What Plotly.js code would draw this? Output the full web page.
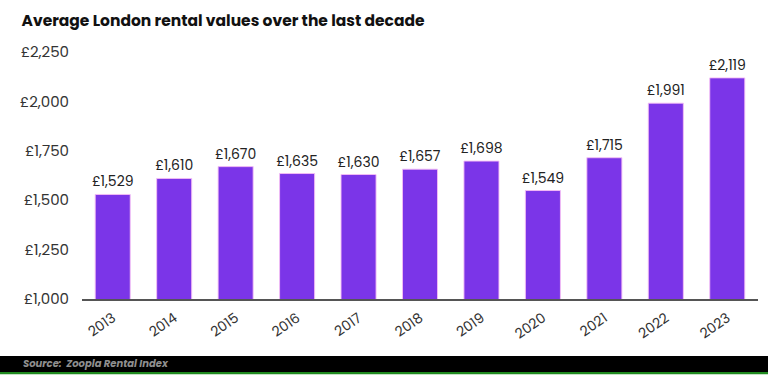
<!DOCTYPE html>
<html><head><meta charset="utf-8">
<script src="https://cdn.plot.ly/plotly-3.0.1.min.js"></script>
<style>html,body{margin:0;padding:0;background:#fff;}#chart{width:768px;height:375px;}</style>
</head><body><div id="chart"></div>
<script>
const years = ['2013','2014','2015','2016','2017','2018','2019','2020','2021','2022','2023'];
const rents = [1529,1610,1670,1635,1630,1657,1698,1549,1715,1991,2119];
const yTicks = [1000,1250,1500,1750,2000,2250];
const yTickLabels = ['£1,000','£1,250','£1,500','£1,750','£2,000','£2,250'];
const barLabels = rents.map(v => '£' + v.toLocaleString('en-GB'));

const font = 'Poppins, Inter, "Open Sans", sans-serif';
const data = [{
  type: 'bar', x: years, y: rents, text: barLabels, textposition: 'outside',
  constraintext: 'none',
  textfont: {family: font, size: 14, color: '#222'},
  cliponaxis: false,
  marker: {color: '#7b35e8', line: {color: 'rgba(245,190,245,0.9)', width: 1}},
  width: 0.57, hoverinfo: 'none'
}];
const layout = {
  width: 768, height: 375,
  margin: {l: 82, r: 10, t: 52, b: 76},
  paper_bgcolor: '#fff', plot_bgcolor: '#fff',
  showlegend: false,
  title: {text: '<b>Average London rental values over the last decade</b>', x: 0.028, xanchor: 'left', y: 0.945, yanchor: 'middle',
          font: {family: font, size: 15.5, color: '#111'}},
  xaxis: {type: 'category', range: [-0.5, 10.5], tickangle: -35, showgrid: false, showline: true, linecolor: '#555', linewidth: 1.5,
          ticks: '', ticklabelstandoff: 4, tickfont: {family: font, size: 14, color: '#333'}, fixedrange: true},
  yaxis: {range: [1000, 2250], tickvals: yTicks, ticktext: yTickLabels, showgrid: false, zeroline: false, showline: false,
          ticks: '', ticklen: 0, ticklabelstandoff: 12, tickfont: {family: font, size: 15, color: '#333'}, fixedrange: true},
  shapes: [
    {type: 'rect', xref: 'paper', yref: 'paper', x0: -0.13, x1: 1.02, y0: -0.2955, y1: -0.2308, fillcolor: '#000', line: {width: 0}, layer: 'above'},
    {type: 'rect', xref: 'paper', yref: 'paper', x0: -0.13, x1: 1.02, y0: -0.305, y1: -0.2955, fillcolor: '#1f8a1f', line: {width: 0}, layer: 'above'}
  ],
  annotations: [
    {text: '<i><b>Source:  Zoopla Rental Index</b></i>', xref: 'paper', yref: 'paper', x: -0.09, y: -0.263, xanchor: 'left', yanchor: 'middle',
     showarrow: false, font: {family: font, size: 10, color: '#8f8f8f'}}
  ]
};
Plotly.newPlot('chart', data, layout, {displayModeBar: false, staticPlot: true});
</script></body></html>
